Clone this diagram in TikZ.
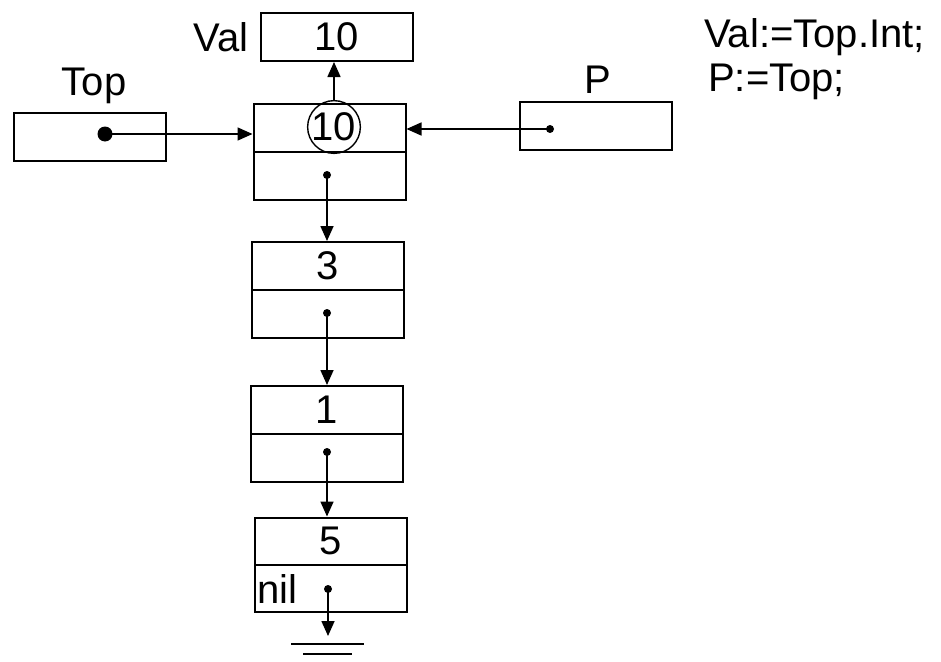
\documentclass[tikz,border=0pt]{standalone}
\usepackage{fontspec}
\setmainfont{Liberation Sans}
\usetikzlibrary{arrows.meta}
\begin{document}
\begin{tikzpicture}[x=1pt,y=-1pt,
  font=\fontsize{40}{44}\selectfont,
  field/.style={draw,line width=2pt,minimum width=152pt,minimum height=48pt,inner sep=0pt,anchor=center},
  lbl/.style={inner sep=0pt,anchor=center},
  arr/.style={line width=1.6pt,-{Triangle[length=15pt,width=13pt]}},
  bigdot/.style={circle,fill,inner sep=0pt,minimum size=15pt},
  smalldot/.style={circle,fill,inner sep=0pt,minimum size=8pt}]
\useasboundingbox (0,0) rectangle (941,661);
% value box
\node[field] (val) at (337,37) {10};
\node[lbl] (vallbl) at (221,37) {Val};
% first list element
\node[field] (n1a) at (329.5,128) {};
\node[field] (n1b) at (329.5,176) {};
\node[draw,circle,line width=1.4pt,minimum size=49pt,inner sep=0pt] (circ) at (334,127) {10};
% Top pointer
\node[field] (top) at (89.5,137) {};
\node[lbl] (toplbl) at (94,86) {Top};
\node[bigdot] (dtop) at (105,134) {};
% P pointer
\node[field] (pbox) at (595.5,126) {};
\node[lbl] (plbl) at (598,80) {P};
\node[smalldot] (dp) at (550,129) {};
% other elements
\node[field] (n2a) at (328,266) {3};
\node[field] (n2b) at (328,314) {};
\node[field] (n3a) at (327,410) {1};
\node[field] (n3b) at (327,458) {};
\node[field,minimum height=47pt] (n4a) at (331,541) {5};
\node[field,minimum height=47pt] (n4b) at (331,588) {};
\node[lbl,anchor=west] (nil) at (257,589) {nil};
% dots
\node[smalldot] (d1) at (327,175) {};
\node[smalldot] (d2) at (327,313) {};
\node[smalldot] (d3) at (327,452) {};
\node[smalldot] (d4) at (328,589) {};
% code text
\node[lbl,anchor=west] (code1) at (704,37) {Val:=Top.Int;};
\node[lbl,anchor=west] (code2) at (708,82) {P:=Top;};
% connectors
\draw[arr] (circ.north) -- (circ.north |- val.south);
\draw[arr] (dtop.center) -- (dtop.center -| n1a.west);
\draw[arr] (dp.center) -- (dp.center -| n1a.east);
\draw[arr] (d1.center) -- (d1.center |- n2a.north);
\draw[arr] (d2.center) -- (d2.center |- n3a.north);
\draw[arr] (d3.center) -- (d3.center |- n4a.north);
\coordinate (gnd) at (328,636);
\draw[arr] (d4.center) -- (gnd);
\draw[line width=1.6pt] (291,644) -- (364,644);
\draw[line width=1.6pt] (303,654) -- (352,654);
\end{tikzpicture}
\end{document}
